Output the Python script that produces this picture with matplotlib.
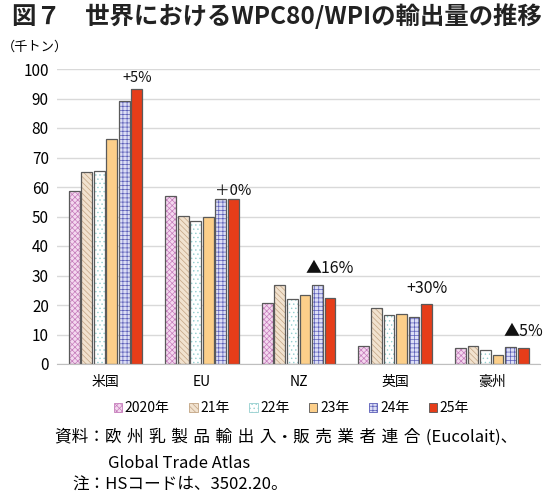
import matplotlib
matplotlib.use("Agg")
import matplotlib.pyplot as plt
import numpy as np
from matplotlib.patches import Patch

plt.rcParams['font.family'] = ['Noto Sans CJK JP', 'DejaVu Sans']
plt.rcParams['hatch.linewidth'] = 0.5

categories = ['米国', 'EU', 'NZ', '英国', '豪州']
series_labels = ['2020年', '21年', '22年', '23年', '24年', '25年']
values = {
    '2020年': [58.8, 56.8, 20.8, 6.0, 5.3],
    '21年':   [65.0, 50.3, 26.8, 18.9, 6.0],
    '22年':   [65.3, 48.5, 22.0, 16.5, 4.6],
    '23年':   [76.4, 49.7, 23.3, 17.0, 2.9],
    '24年':   [89.2, 55.9, 26.8, 15.8, 5.8],
    '25年':   [93.1, 55.8, 22.5, 20.4, 5.5],
}
change_labels = ['+5%', '＋0%', '▲16%', '+30%', '▲5%']
yticks = [0, 10, 20, 30, 40, 50, 60, 70, 80, 90, 100]

styles = [
    dict(fc='#F4D8EF', hatch='xxxxxx', hc='#C57CBB'),
    dict(fc='#F1E2CF', hatch='\\\\\\\\\\\\', hc='#C2A483'),
    dict(fc='#FFFFFF', hatch='....', hc='#94CFCF'),
    dict(fc='#FCCF8A', hatch=None, hc='#FCCF8A'),
    dict(fc='#DCDEF6', hatch='++++', hc='#5a5db8'),
    dict(fc='#E63D19', hatch=None, hc='#E63D19'),
]

fig = plt.figure(figsize=(5.5, 5.0), dpi=100)
ax = fig.add_axes([0.104, 0.272, 0.878, 0.590])

x = np.arange(len(categories))
n = len(series_labels)
pitch = 0.13
width = 0.112
for i, s in enumerate(series_labels):
    pos = x + (i - (n - 1) / 2) * pitch
    st = styles[i]
    ax.bar(pos, values[s], width, color=st['fc'], hatch=st['hatch'],
           edgecolor=st['hc'], linewidth=0, zorder=3)
    ax.bar(pos, values[s], width, fill=False, edgecolor='#5a5a5a',
           linewidth=0.9, zorder=4)

label_y = [94.6, 56.4, 29.6, 22.8, 8.1]
for k, lab in enumerate(change_labels):
    xpos = x[k] + ((n - 1) / 2) * pitch
    ax.text(xpos, label_y[k], lab, ha='center', va='bottom',
            fontsize=11.5 if k in (2, 3, 4) else 10.5, color='#111111',
            family=['Noto Sans CJK JP', 'DejaVu Sans'])

ax.set_ylim(0, 100)
ax.set_xlim(-0.5, len(categories) - 0.5)
ax.set_yticks(yticks)
ax.set_yticklabels([str(t) for t in yticks], fontsize=11)
ax.set_xticks(x)
ax.set_xticklabels(categories, fontsize=10)
ax.tick_params(axis='both', length=0, pad=6)
ax.tick_params(axis='x', pad=8)
ax.yaxis.grid(True, color='#D9D9D9', linewidth=1, zorder=0)
ax.set_axisbelow(True)
for sp in ['top', 'right', 'left']:
    ax.spines[sp].set_visible(False)
ax.spines['bottom'].set_color('#BFBFBF')
ax.spines['bottom'].set_zorder(5)

fig.text(0.003, 0.905, '（千トン）', fontsize=9.5, ha='left', va='center')

fig.text(0.022, 0.968, '図７　世界におけるWPC80/WPIの輸出量の推移', fontsize=17.6,
         fontweight='bold', ha='left', va='center', color='#222222')

handles = [Patch(facecolor=st['fc'], hatch=st['hatch'], edgecolor=st['hc'] if st['hatch'] else '#555555',
                 linewidth=0.6) for st in styles]
fig.legend(handles, series_labels, loc='center', bbox_to_anchor=(0.53, 0.184), ncol=6,
           frameon=False, fontsize=10, handlelength=0.6, handleheight=0.6,
           handletextpad=0.2, columnspacing=1.4)

sp3 = '\u2004'
line1 = '資料：' + sp3.join('欧州乳製品輸出入') + '・' + sp3.join('販売業者連合') + sp3 + '(Eucolait)、'
fig.text(0.1, 0.125, line1, fontsize=12, ha='left', va='center')
fig.text(0.196, 0.074, 'Global Trade Atlas', fontsize=12, ha='left', va='center')
fig.text(0.131, 0.029, '注：HSコードは、3502.20。', fontsize=12, ha='left', va='center')

fig.savefig('out.png', dpi=100)
